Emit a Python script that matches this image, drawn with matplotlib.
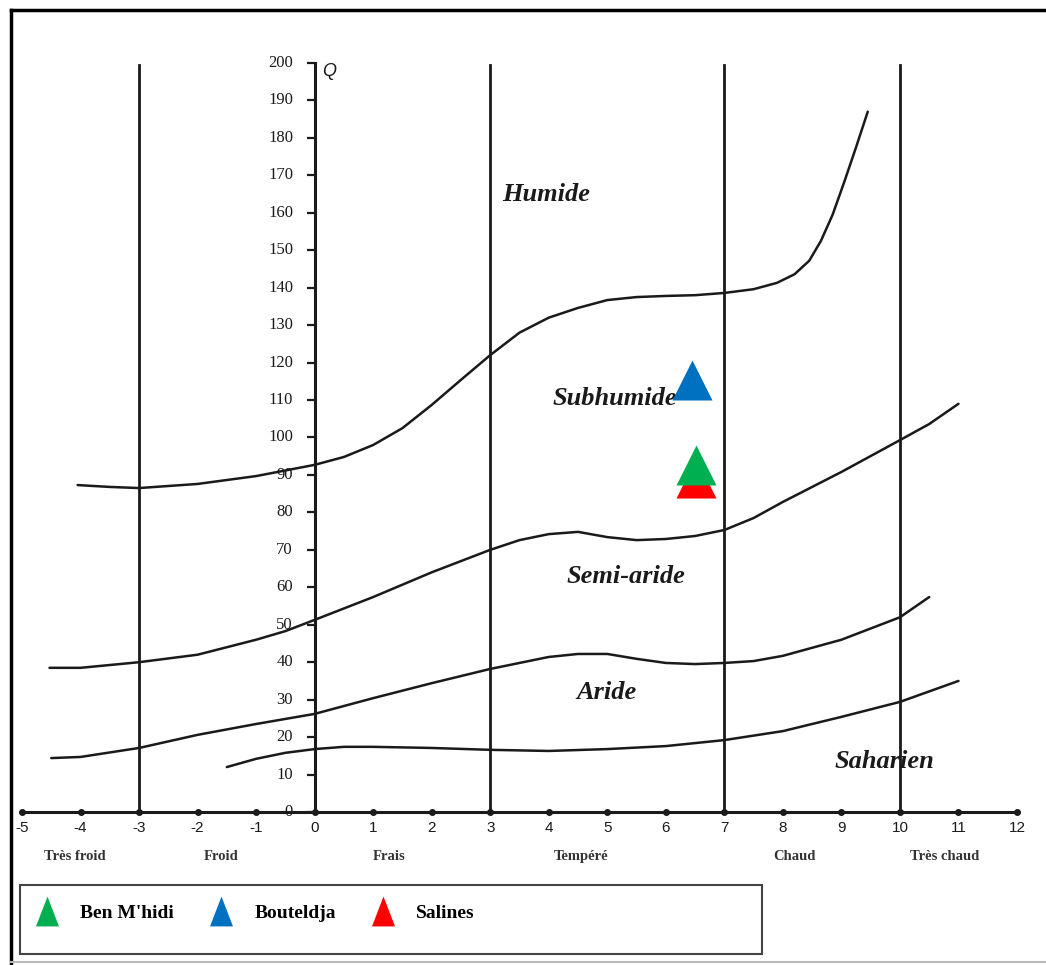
import matplotlib.pyplot as plt
from matplotlib.lines import Line2D
from matplotlib.patches import Rectangle

# ---- data ----
# limit curves (x = m, Q = pluviothermic quotient)
hum_x = [-4.05, -3.5, -3, -2, -1, 0, 0.5, 1, 1.5, 2, 2.5, 3, 3.5, 4, 4.5, 5, 5.5,
         6, 6.5, 7, 7.5, 7.9, 8.2, 8.45, 8.65, 8.85, 9.05, 9.25, 9.45]
hum_q = [87.3, 86.8, 86.5, 87.6, 89.7, 92.7, 94.8, 98, 102.5, 108.7, 115.4, 122, 128,
         132, 134.6, 136.7, 137.5, 137.8, 138, 138.6, 139.6, 141.3, 143.6, 147.2,
         152.5, 159.5, 168.3, 177.5, 187]

sub_x = [-4.53, -4, -3, -2, -1, -0.5, 0, 1, 2, 3, 3.5, 4, 4.5, 5, 5.5, 6, 6.5, 7,
         7.5, 8, 9, 10, 10.5, 11]
sub_q = [38.5, 38.5, 40, 42, 46, 48.3, 51.3, 57.4, 64, 70, 72.6, 74.2, 74.8, 73.4,
         72.6, 72.9, 73.7, 75.3, 78.5, 82.8, 90.8, 99.3, 103.6, 109]

semi_x = [-4.5, -4, -3, -2, -1, 0, 1, 2, 3, 4, 4.5, 5, 5.5, 6, 6.5, 7, 7.5, 8, 9,
          10, 10.5]
semi_q = [14.4, 14.7, 17.1, 20.6, 23.5, 26.2, 30.4, 34.4, 38.2, 41.4, 42.2, 42.2,
          40.9, 39.8, 39.5, 39.8, 40.3, 41.7, 46, 52, 57.4]

arid_x = [-1.5, -1, -0.5, 0, 0.5, 1, 2, 3, 4, 5, 6, 7, 8, 9, 10, 11]
arid_q = [12, 14.2, 15.8, 16.8, 17.4, 17.4, 17.1, 16.6, 16.3, 16.8, 17.6, 19.2,
          21.6, 25.4, 29.4, 35]

# vertical thermal limits
vlines_x = [-3, 3, 7, 10]

# stations
stations = ["Ben M'hidi", "Bouteldja", "Salines"]
st_x = [6.52, 6.45, 6.52]
st_q = [92.7, 115.3, 89.2]
st_col = ["#00B050", "#0070C0", "#FF0000"]

zones = ["Humide", "Subhumide", "Semi-aride", "Aride", "Saharien"]
zone_x = [3.95, 5.13, 5.32, 4.99, 9.74]
zone_q = [164.8, 110.3, 62.8, 31.8, 13.6]

winters = ["Très froid", "Froid", "Frais", "Tempéré", "Chaud", "Très chaud"]
winter_x = [-4.09, -1.59, 1.28, 4.56, 8.2, 10.77]

xticks = list(range(-5, 13))
yticks = list(range(0, 201, 10))

ink = "#1a1a1a"

# -------------------------------------------------
fig = plt.figure(figsize=(10.46, 9.65), dpi=100)
ax = fig.add_axes([22 / 1046, 1 - 812 / 965, 995 / 1046, 749 / 965])
ax.set_xlim(-5, 12)
ax.set_ylim(0, 200)
ax.axis("off")

# curves
for cx, cq in [(hum_x, hum_q), (sub_x, sub_q), (semi_x, semi_q), (arid_x, arid_q)]:
    ax.plot(cx, cq, color=ink, lw=1.8, solid_capstyle="round",
            solid_joinstyle="round", clip_on=False)

for vx in vlines_x:
    ax.plot([vx, vx], [0, 199.5], color=ink, lw=2, clip_on=False)

# axes drawn by hand
ax.plot([-5, 12], [0, 0], color=ink, lw=2.2, clip_on=False)
ax.plot(xticks, [0] * len(xticks), "o", color=ink, ms=4, clip_on=False)
ax.plot([0, 0], [0, 200], color=ink, lw=2.2, clip_on=False)
ax.plot([0] * len(yticks), yticks, marker=0, ls="none", color=ink, ms=6,
        mew=1.6, clip_on=False)

for t in xticks:
    ax.text(t, -4.3, str(t), ha="center", va="center", fontsize=11,
            family="Liberation Sans", color=ink)
for t in yticks:
    ax.text(-0.37, t, str(t), ha="right", va="center", fontsize=12,
            family="Liberation Serif", color=ink)
ax.text(0.12, 197.6, "Q", ha="left", va="center", fontsize=13, style="italic",
        family="Liberation Sans", color=ink)

for lab, wx in zip(winters, winter_x):
    ax.text(wx, -12, lab, ha="center", va="center", fontsize=10.5,
            family="Liberation Serif", weight="bold", color="#333333")

for lab, zx, zq in zip(zones, zone_x, zone_q):
    ax.text(zx, zq, lab, ha="center", va="center", fontsize=19,
            family="Liberation Serif", weight="bold", style="italic", color=ink)

# stations (green drawn above red)
order = [2, 0, 1]
for z, i in enumerate(order):
    ax.scatter(st_x[i], st_q[i], s=830, marker="^", color=st_col[i],
               zorder=5 + z, linewidths=0)

# legend
tri = [(-0.77, -1), (0.77, -1), (0, 1), (-0.77, -1)]
handles = [Line2D([], [], marker=tri, ls="none", color=c, ms=21.5, mew=0)
           for c in st_col]
fig.legend(handles, stations, loc="center left", ncol=3, frameon=False,
           bbox_to_anchor=(23.4 / 1046, 1 - 913 / 965), borderpad=0,
           handlelength=1.4, handletextpad=1.0, columnspacing=1.75,
           prop={"family": "Liberation Serif", "weight": "bold", "size": 14})
fig.add_artist(Rectangle((20 / 1046, 1 - 954 / 965), 742 / 1046, 69 / 965,
                         transform=fig.transFigure, fill=False,
                         edgecolor="#444444", lw=1.5))

# outer frame of the scanned figure
fig.add_artist(Line2D([11 / 1046, 1], [1 - 10 / 965] * 2, transform=fig.transFigure,
                      color="k", lw=2.5))
fig.add_artist(Line2D([11 / 1046] * 2, [1 - 10 / 965, 0], transform=fig.transFigure,
                      color="k", lw=2.5))
fig.add_artist(Line2D([11 / 1046, 1], [1 - 962 / 965] * 2, transform=fig.transFigure,
                      color="#bbbbbb", lw=1.5))

fig.savefig("out.png", dpi=100)
